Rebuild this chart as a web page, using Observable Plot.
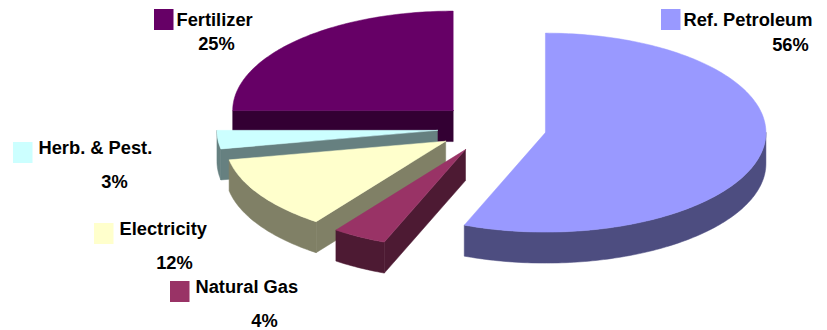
<!DOCTYPE html>
<html>
<head>
<meta charset="utf-8">
<script src="https://cdn.jsdelivr.net/npm/d3@7"></script>
<script src="https://cdn.jsdelivr.net/npm/@observablehq/plot@0.6"></script>
<style>
  html, body { margin: 0; padding: 0; background: #fff; }
  svg { display: block; }
</style>
</head>
<body>
<div id="chart"></div>
<script>
// Energy input shares, clockwise from twelve o'clock
const sources = ["Ref. Petroleum", "Natural Gas", "Electricity", "Herb. & Pest.", "Fertilizer"];
const shares = [56, 4, 12, 3, 25];
const topColors = ["#9999ff", "#993366", "#ffffcc", "#ccffff", "#660066"];
const sideColors = ["#4d4d80", "#4d1a33", "#808066", "#668080", "#330033"];

// Pie geometry in the chart's coordinate space
const centre = {x: 491.3, y: 127.5};
const radiusX = 220.5;
const radiusY = 99.5;
const thickness = 31;
const explode = 0.2476;

// Legend layout
const swatchX = [661, 170, 94, 13, 154];
const swatchY = [9, 281, 223, 142, 9];
const nameX = [683, 195, 119, 38, 176];
const nameY = [25, 292, 234, 153, 25];
const shareX = [790, 264, 174, 114, 216];
const shareY = [50, 326, 268, 187, 49];

const pie = d3.pie().sort(null).value((d) => d)(shares);
const total = d3.sum(shares);

// Outline points of every visible face, painted back to front
const faces = [];
function addFace(id, color, pts) {
  pts.forEach(([x, y]) => faces.push({id, color, x, y}));
  faces.push({id, color, x: pts[0][0], y: pts[0][1]});
}

for (let i = sources.length - 1; i >= 0; --i) {
  const a0 = pie[i].startAngle;
  const a1 = pie[i].endAngle;
  const mid = (a0 + a1) / 2;
  const cx = centre.x + explode * radiusX * Math.sin(mid);
  const cy = centre.y - explode * radiusY * Math.cos(mid);
  const rim = (a) => [cx + radiusX * Math.sin(a), cy - radiusY * Math.cos(a)];
  const arc = (from, to) => {
    const n = Math.max(2, Math.ceil(((to - from) * 180) / Math.PI));
    return d3.range(n + 1).map((k) => rim(from + ((to - from) * k) / n));
  };
  const drop = (pts) => pts.map(([x, y]) => [x, y + thickness]).reverse();

  // Radial cut on the leading edge, when it faces the viewer
  if (a0 >= Math.PI) {
    const cut = [[cx, cy], rim(a0)];
    addFace(`${i}-start`, sideColors[i], [...cut, ...drop(cut)]);
  }
  // Radial cut on the trailing edge, when it faces the viewer
  if (a1 <= Math.PI) {
    const cut = [[cx, cy], rim(a1)];
    addFace(`${i}-end`, sideColors[i], [...cut, ...drop(cut)]);
  }
  // Curved outer wall, front half only
  const wallFrom = Math.max(a0, Math.PI / 2);
  const wallTo = Math.min(a1, (3 * Math.PI) / 2);
  if (wallTo > wallFrom) {
    const wall = arc(wallFrom, wallTo);
    addFace(`${i}-wall`, sideColors[i], [...wall, ...drop(wall)]);
  }
  // Top surface
  addFace(`${i}-top`, topColors[i], [[cx, cy], ...arc(a0, a1)]);
}

const legend = sources.map((name, i) => ({
  name,
  pct: `${Math.round((shares[i] / total) * 100)}%`,
  color: topColors[i],
  sx: swatchX[i],
  sy: swatchY[i],
  nx: nameX[i],
  ny: nameY[i],
  px: shareX[i],
  py: shareY[i]
}));

const textStyle = {
  fontFamily: "'Liberation Sans', Arial, sans-serif",
  fontWeight: "bold",
  fontSize: 18.3,
  fill: "#000",
  lineAnchor: "bottom"
};

const chart = Plot.plot({
  width: 827,
  height: 330,
  margin: 0,
  style: {background: "#fff"},
  x: {domain: [0, 827], range: [0, 827], axis: null},
  y: {domain: [0, 330], range: [0, 330], axis: null},
  color: {type: "identity"},
  marks: [
    Plot.line(faces, {
      x: "x",
      y: "y",
      z: "id",
      fill: "color",
      stroke: "color",
      strokeWidth: 0.5,
      strokeLinejoin: "round"
    }),
    Plot.rect(legend, {
      x1: "sx",
      x2: (d) => d.sx + 19.5,
      y1: "sy",
      y2: (d) => d.sy + 21,
      fill: "color"
    }),
    Plot.text(legend, {x: "nx", y: "ny", text: "name", textAnchor: "start", ...textStyle}),
    Plot.text(legend, {x: "px", y: "py", text: "pct", textAnchor: "middle", ...textStyle})
  ]
});

document.getElementById("chart").append(chart);
</script>
</body>
</html>
